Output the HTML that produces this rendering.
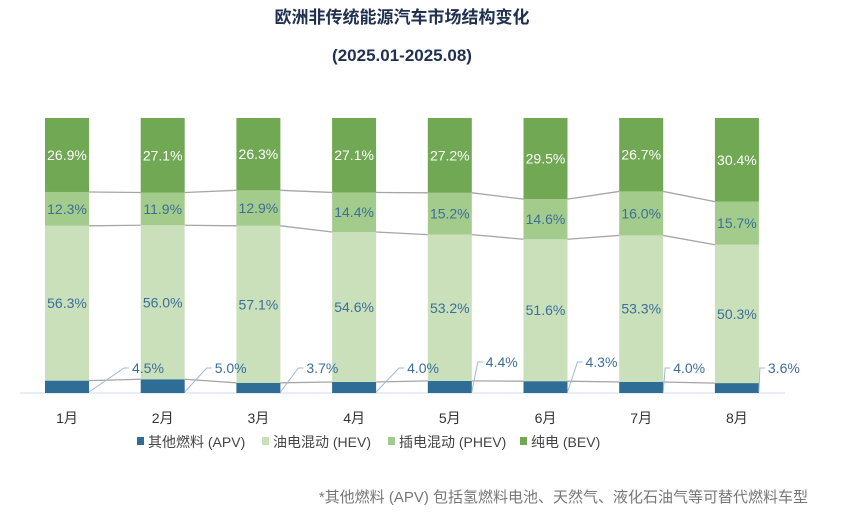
<!DOCTYPE html>
<html><head><meta charset="utf-8"><style>
body{margin:0;background:#fff;width:849px;height:522px;overflow:hidden;font-family:"Liberation Sans","Noto Sans CJK SC",sans-serif}
</style></head><body>
<svg width="849" height="522" xmlns="http://www.w3.org/2000/svg" font-family="Liberation Sans, Noto Sans CJK SC, sans-serif">
<text x="402" y="23" text-anchor="middle" font-size="17" font-weight="bold" fill="#1f3050">欧洲非传统能源汽车市场结构变化</text>
<text x="402" y="61" text-anchor="middle" font-size="17" font-weight="bold" fill="#1f3050">(2025.01-2025.08)</text>
<g id="plot"></g>
<g font-size="14" fill="#444">
<rect x="137" y="437" width="7" height="8" fill="#2e6e96"/><text x="148" y="447">其他燃料 (APV)</text>
<rect x="262" y="437" width="7" height="8" fill="#c9e0bb"/><text x="273" y="447">油电混动 (HEV)</text>
<rect x="388" y="437" width="7" height="8" fill="#a3cc8c"/><text x="399" y="447">插电混动 (PHEV)</text>
<rect x="520" y="437" width="7" height="8" fill="#70a853"/><text x="531" y="447">纯电 (BEV)</text>
</g>
<text x="808" y="502" text-anchor="end" font-size="15" fill="#777">*其他燃料 (APV) 包括氢燃料电池、天然气、液化石油气等可替代燃料车型</text>
</svg>
<script>
const months=["1月","2月","3月","4月","5月","6月","7月","8月"];
const apv=[4.5,5.0,3.7,4.0,4.4,4.3,4.0,3.6];
const hev=[56.3,56.0,57.1,54.6,53.2,51.6,53.3,50.3];
const phev=[12.3,11.9,12.9,14.4,15.2,14.6,16.0,15.7];
const bev=[26.9,27.1,26.3,27.1,27.2,29.5,26.7,30.4];
const NS="http://www.w3.org/2000/svg";
const g=document.getElementById('plot');
const yTop=118,yBot=393,x0=67,step=95.7,bw=44;
const labelLayout=[[43,373],[30,373],[26,373],[31,373],[14,367],[18,367],[10,373],[9,373]];
const xc=i=>x0+i*step;
const y=(v,t)=>yBot-(v/t)*(yBot-yTop);
function mk(tag,a){const e=document.createElementNS(NS,tag);for(const k in a)e.setAttribute(k,a[k]);g.appendChild(e);return e;}
const ax=mk('line',{x1:20,x2:785,y1:yBot,y2:yBot,stroke:'#d0d8e8','stroke-width':1});


const series=[[apv,'#2e6e96','apv'],[hev,'#c9e0bb','hev'],[phev,'#a3cc8c','phev'],[bev,'#70a853','bev']];
const bounds=[];
months.forEach((m,i)=>{
  const tot=apv[i]+hev[i]+phev[i]+bev[i];
  let c=0;const b=[];
  series.forEach(([arr,col,nm])=>{
    const y1=y(c,tot),y2=y(c+arr[i],tot);
    const r=mk('rect',{x:xc(i)-bw/2,y:y2,width:bw,height:y1-y2,fill:col});
    
    
    c+=arr[i];b.push(y2);
    if(nm!=='apv'){
      const t=mk('text',{x:xc(i),y:(y1+y2)/2+5,'text-anchor':'middle','font-size':14,fill:nm==='bev'?'#fff':'#3c6e9a'});
      t.textContent=arr[i].toFixed(1)+'%';
      
      
    }
  });
  bounds.push(b);
  const ml=mk('text',{x:xc(i),y:423,'text-anchor':'middle','font-size':14,fill:'#333'});
  ml.textContent=m;
  
  
});
for(let i=0;i<months.length-1;i++){
  for(let k=0;k<3;k++){
    const l=mk('line',{x1:xc(i)+bw/2,y1:bounds[i][k],x2:xc(i+1)-bw/2,y2:bounds[i+1][k],stroke:'#a6a6a6','stroke-width':1.3});
    
    
  }
}
months.forEach((m,i)=>{
  const bx=xc(i)+bw/2;
  const [off,by]=labelLayout[i];
  const ly=by-5;
  const ld=mk('polyline',{points:`${bx},${yBot-1} ${bx+off-8},${ly} ${bx+off-3},${ly}`,fill:'none',stroke:'#9fb8d6','stroke-width':1});
  
  
  const t=mk('text',{x:bx+off,y:by,'font-size':14,fill:'#3c6e9a'});
  t.textContent=apv[i].toFixed(1)+'%';
  
  
});
</script>
</body></html>
